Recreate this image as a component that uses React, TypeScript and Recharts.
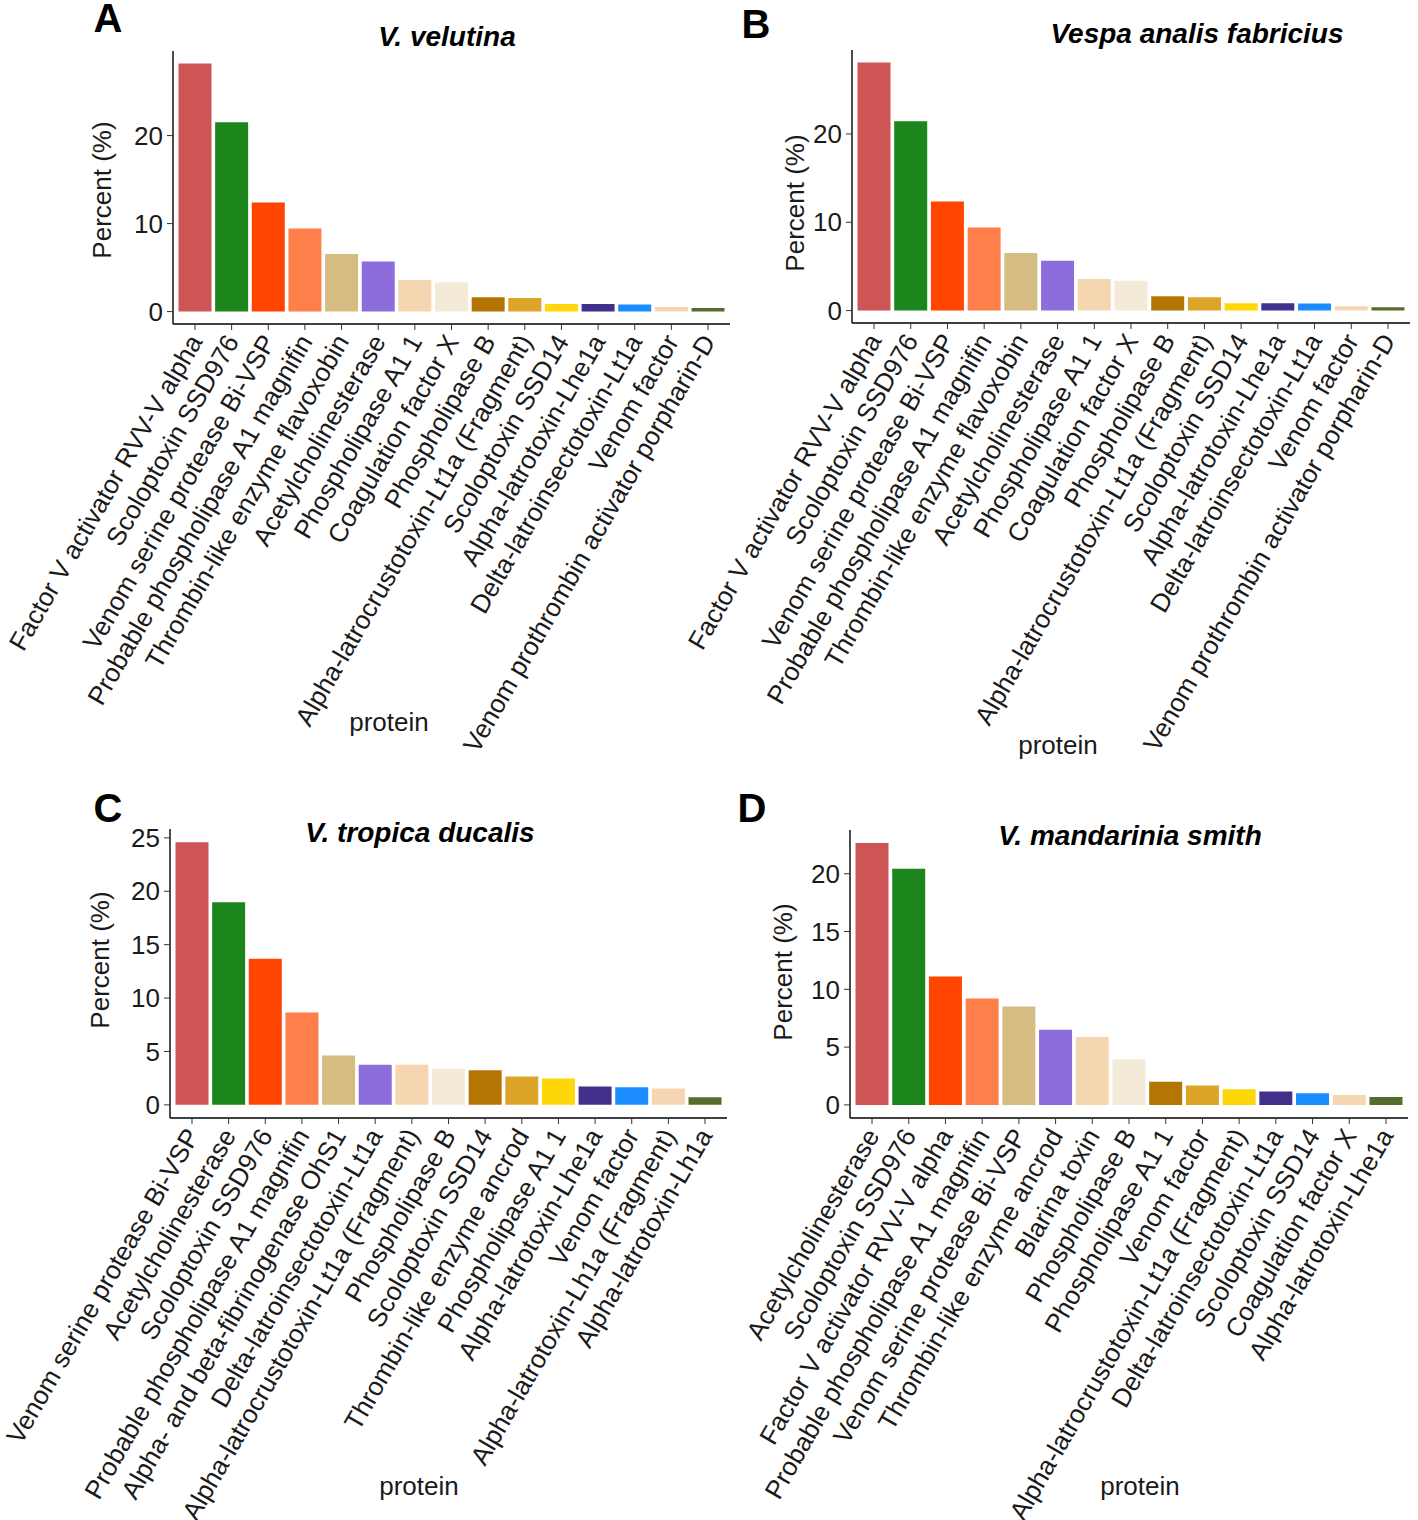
import React from 'react';
import { BarChart, Bar, XAxis, YAxis, Cell } from 'recharts';

// protein categories and percent values per species
const velutinaProteins = [
    'Factor V activator RVV-V alpha',
    'Scoloptoxin SSD976',
    'Venom serine protease Bi-VSP',
    'Probable phospholipase A1 magnifin',
    'Thrombin-like enzyme flavoxobin',
    'Acetylcholinesterase',
    'Phospholipase A1 1',
    'Coagulation factor X',
    'Phospholipase B',
    'Alpha-latrocrustotoxin-Lt1a (Fragment)',
    'Scoloptoxin SSD14',
    'Alpha-latrotoxin-Lhe1a',
    'Delta-latroinsectotoxin-Lt1a',
    'Venom factor',
    'Venom prothrombin activator porpharin-D'
];
const velutinaPercent = [28.2, 21.5, 12.4, 9.45, 6.55, 5.7, 3.6, 3.33, 1.63, 1.55, 0.87, 0.87, 0.8, 0.53, 0.42];

const analisProteins = velutinaProteins;
const analisPercent = [28.1, 21.45, 12.35, 9.42, 6.52, 5.65, 3.58, 3.39, 1.62, 1.51, 0.84, 0.84, 0.8, 0.5, 0.38];

const tropicaProteins = [
    'Venom serine protease Bi-VSP',
    'Acetylcholinesterase',
    'Scoloptoxin SSD976',
    'Probable phospholipase A1 magnifin',
    'Alpha- and beta-fibrinogenase OhS1',
    'Delta-latroinsectotoxin-Lt1a',
    'Alpha-latrocrustotoxin-Lt1a (Fragment)',
    'Phospholipase B',
    'Scoloptoxin SSD14',
    'Thrombin-like enzyme ancrod',
    'Phospholipase A1 1',
    'Alpha-latrotoxin-Lhe1a',
    'Venom factor',
    'Alpha-latrotoxin-Lh1a (Fragment)',
    'Alpha-latrotoxin-Lh1a'
];
const tropicaPercent = [24.6, 18.97, 13.69, 8.66, 4.63, 3.75, 3.75, 3.41, 3.25, 2.66, 2.47, 1.72, 1.66, 1.53, 0.72];

const mandariniaProteins = [
    'Acetylcholinesterase',
    'Scoloptoxin SSD976',
    'Factor V activator RVV-V alpha',
    'Probable phospholipase A1 magnifin',
    'Venom serine protease Bi-VSP',
    'Thrombin-like enzyme ancrod',
    'Blarina toxin',
    'Phospholipase B',
    'Phospholipase A1 1',
    'Venom factor',
    'Alpha-latrocrustotoxin-Lt1a (Fragment)',
    'Delta-latroinsectotoxin-Lt1a',
    'Scoloptoxin SSD14',
    'Coagulation factor X',
    'Alpha-latrotoxin-Lhe1a'
];
const mandariniaPercent = [22.65, 20.43, 11.1, 9.2, 8.52, 6.5, 5.87, 3.94, 2.01, 1.67, 1.35, 1.15, 1.01, 0.86, 0.69];

const ticks10 = [0, 10, 20];
const ticks5to25 = [0, 5, 10, 15, 20, 25];
const ticks5to20 = [0, 5, 10, 15, 20];

const palette = [
    '#CD5555', '#1C851C', '#FF4500', '#FF7F4A', '#D5BC83',
    '#8D6CDC', '#F5D6B0', '#F3EBD8', '#B57503', '#DCA428',
    '#FFD60A', '#42308A', '#1A8CFF', '#F5D6B0', '#546C2C'
];

const FONT = '"Liberation Sans", Arial, sans-serif';
const TEXT = '#1a1a1a';

const RotatedTick = (props: any) => {
    const { x, y, payload } = props;
    const ax = x - 8;
    return (
        <text
            x={ax}
            y={y}
            transform={`rotate(-60 ${ax} ${y})`}
            textAnchor="end"
            dy="0.72em"
            fontSize={26}
            fontFamily={FONT}
            fill={TEXT}
        >
            {payload.value}
        </text>
    );
};

interface PanelProps {
    names: string[];
    values: number[];
    ticks: number[];
    box: { left: number; top: number; width: number; height: number };
    plot: { left: number; right: number; top: number; bottom: number };
}

const YAXIS_W = 60;

const Panel: React.FC<PanelProps> = ({ names, values, ticks, box, plot }) => {
    const data = names.map((n, i) => ({ protein: n, value: values[i] }));
    const max = Math.max(...values);
    const plotW = plot.right - plot.left;
    const pad = plotW / 152;
    return (
        <div style={{ position: 'absolute', left: box.left, top: box.top }}>
            <BarChart
                width={box.width}
                height={box.height}
                data={data}
                barCategoryGap="5%"
                style={{ overflow: 'visible' }}
                margin={{
                    top: plot.top - box.top,
                    right: box.left + box.width - plot.right,
                    left: plot.left - box.left - YAXIS_W,
                    bottom: 0
                }}
            >
                <XAxis
                    dataKey="protein"
                    interval={0}
                    height={box.top + box.height - plot.bottom}
                    padding={{ left: pad, right: pad }}
                    tick={<RotatedTick />}
                    tickSize={6}
                    tickMargin={2}
                    axisLine={{ stroke: '#000', strokeWidth: 1.4 }}
                    tickLine={{ stroke: '#333' }}
                />
                <YAxis
                    type="number"
                    width={YAXIS_W}
                    domain={[-0.05 * max, 1.05 * max]}
                    allowDataOverflow
                    ticks={ticks}
                    tickSize={6}
                    tickMargin={4}
                    tick={{ fontSize: 26, fontFamily: FONT, fill: TEXT }}
                    axisLine={{ stroke: '#000', strokeWidth: 1.4 }}
                    tickLine={{ stroke: '#333' }}
                />
                <Bar dataKey="value" isAnimationActive={false}>
                    {data.map((d, i) => (
                        <Cell key={d.protein} fill={palette[i]} />
                    ))}
                </Bar>
            </BarChart>
        </div>
    );
};

const App: React.FC = () => {
    const letter = { fontSize: 40, fontWeight: 'bold' as const, fontFamily: FONT, fill: '#000' };
    const title = { fontSize: 28, fontWeight: 'bold' as const, fontStyle: 'italic', fontFamily: FONT, fill: '#000' };
    const axisTitle = { fontSize: 26, fontFamily: FONT, fill: TEXT };
    return (
        <div style={{ position: 'absolute', left: 0, top: 0, width: 1418, height: 1520, background: '#fff' }}>
            <Panel
                names={velutinaProteins}
                values={velutinaPercent}
                ticks={ticks10}
                box={{ left: 0, top: 0, width: 740, height: 760 }}
                plot={{ left: 173, right: 730, top: 51, bottom: 324 }}
            />
            <Panel
                names={analisProteins}
                values={analisPercent}
                ticks={ticks10}
                box={{ left: 650, top: 0, width: 768, height: 770 }}
                plot={{ left: 852, right: 1410, top: 50, bottom: 323 }}
            />
            <Panel
                names={tropicaProteins}
                values={tropicaPercent}
                ticks={ticks5to25}
                box={{ left: 0, top: 770, width: 740, height: 750 }}
                plot={{ left: 170, right: 727, top: 829, bottom: 1118 }}
            />
            <Panel
                names={mandariniaProteins}
                values={mandariniaPercent}
                ticks={ticks5to20}
                box={{ left: 650, top: 770, width: 768, height: 750 }}
                plot={{ left: 850, right: 1408, top: 830, bottom: 1118 }}
            />
            <svg width={1418} height={1520} style={{ position: 'absolute', left: 0, top: 0, pointerEvents: 'none' }}>
                <text x={108} y={32} textAnchor="middle" {...letter}>A</text>
                <text x={756} y={38} textAnchor="middle" {...letter}>B</text>
                <text x={108} y={822} textAnchor="middle" {...letter}>C</text>
                <text x={752} y={822} textAnchor="middle" {...letter}>D</text>

                <text x={447} y={46} textAnchor="middle" {...title}>V. velutina</text>
                <text x={1197} y={43} textAnchor="middle" {...title}>Vespa analis fabricius</text>
                <text x={420} y={842} textAnchor="middle" {...title}>V. tropica ducalis</text>
                <text x={1130} y={845} textAnchor="middle" {...title}>V. mandarinia smith</text>

                <text x={102} y={190} transform="rotate(-90 102 190)" textAnchor="middle" dominantBaseline="central" {...axisTitle}>Percent (%)</text>
                <text x={795} y={203} transform="rotate(-90 795 203)" textAnchor="middle" dominantBaseline="central" {...axisTitle}>Percent (%)</text>
                <text x={100} y={960} transform="rotate(-90 100 960)" textAnchor="middle" dominantBaseline="central" {...axisTitle}>Percent (%)</text>
                <text x={783} y={972} transform="rotate(-90 783 972)" textAnchor="middle" dominantBaseline="central" {...axisTitle}>Percent (%)</text>

                <text x={389} y={722} textAnchor="middle" dominantBaseline="central" {...axisTitle}>protein</text>
                <text x={1058} y={745} textAnchor="middle" dominantBaseline="central" {...axisTitle}>protein</text>
                <text x={419} y={1486} textAnchor="middle" dominantBaseline="central" {...axisTitle}>protein</text>
                <text x={1140} y={1486} textAnchor="middle" dominantBaseline="central" {...axisTitle}>protein</text>
            </svg>
        </div>
    );
};

export default App;
